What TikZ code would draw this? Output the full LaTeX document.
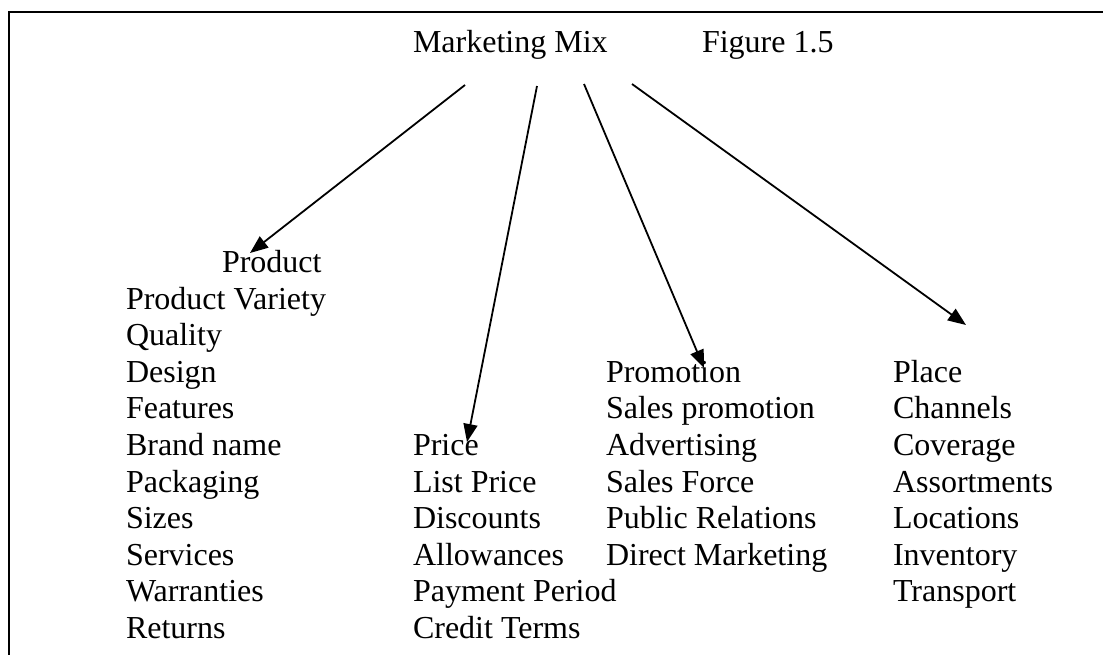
\documentclass[tikz,border=0pt]{standalone}
\usepackage{fontspec}
\setmainfont{Liberation Serif}
\usetikzlibrary{arrows.meta}
\begin{document}
\begin{tikzpicture}[x=1pt,y=-1pt,
  lbl/.style={anchor=base west,inner sep=0pt,outer sep=0pt,font=\fontsize{32}{36.6}\selectfont},
  frame/.style={line width=2.6pt,line cap=rect},
  conn/.style={line width=1.8pt,-{Triangle[length=18pt,width=14pt]}}]
\useasboundingbox (0,0) rectangle (1103,654);
% frame
\coordinate (fTL) at (9,12);
\coordinate (fTR) at (1103,12);
\coordinate (fBL) at (9,654);
\draw[frame] (fTR) -- (fTL) -- (fBL);
% title
\node[lbl] (mm) at (413,52) {Marketing Mix};
\node[lbl] (fig) at (702,52) {Figure 1.5};
% product column
\node[lbl] (product) at (222,272.5) {Product};
\node[lbl] (p1) at (126,309) {Product Variety};
\node[lbl] (p2) at (126,345.6) {Quality};
\node[lbl] (p3) at (126,382.2) {Design};
\node[lbl] (p4) at (126,418.8) {Features};
\node[lbl] (p5) at (126,455.4) {Brand name};
\node[lbl] (p6) at (126,492) {Packaging};
\node[lbl] (p7) at (126,528.6) {Sizes};
\node[lbl] (p8) at (126,565.2) {Services};
\node[lbl] (p9) at (126,601.8) {Warranties};
\node[lbl] (p10) at (126,638.4) {Returns};
% price column
\node[lbl] (price) at (413,455.4) {Price};
\node[lbl] (r1) at (413,492) {List Price};
\node[lbl] (r2) at (413,528.6) {Discounts};
\node[lbl] (r3) at (413,565.2) {Allowances};
\node[lbl] (r4) at (413,601.8) {Payment Period};
\node[lbl] (r5) at (413,638.4) {Credit Terms};
% promotion column
\node[lbl] (promo) at (606,382.2) {Promotion};
\node[lbl] (m1) at (606,418.8) {Sales promotion};
\node[lbl] (m2) at (606,455.4) {Advertising};
\node[lbl] (m3) at (606,492) {Sales Force};
\node[lbl] (m4) at (606,528.6) {Public Relations};
\node[lbl] (m5) at (606,565.2) {Direct Marketing};
% place column
\node[lbl] (place) at (893,382.2) {Place};
\node[lbl] (l1) at (893,418.8) {Channels};
\node[lbl] (l2) at (893,455.4) {Coverage};
\node[lbl] (l3) at (893,492) {Assortments};
\node[lbl] (l4) at (893,528.6) {Locations};
\node[lbl] (l5) at (893,565.2) {Inventory};
\node[lbl] (l6) at (893,601.8) {Transport};
% connector ends
\coordinate (s1) at (465,85);
\coordinate (s2) at (537,86);
\coordinate (s3) at (584,84);
\coordinate (s4) at (632,84);
\coordinate (tProduct) at (250,253);
\coordinate (tPrice) at (467,442);
\coordinate (tPromo) at (704,368);
\coordinate (tPlace) at (966,325);
\draw[conn] (s1) -- (tProduct);
\draw[conn] (s2) -- (tPrice);
\draw[conn] (s3) -- (tPromo);
\draw[conn] (s4) -- (tPlace);
\end{tikzpicture}
\end{document}
